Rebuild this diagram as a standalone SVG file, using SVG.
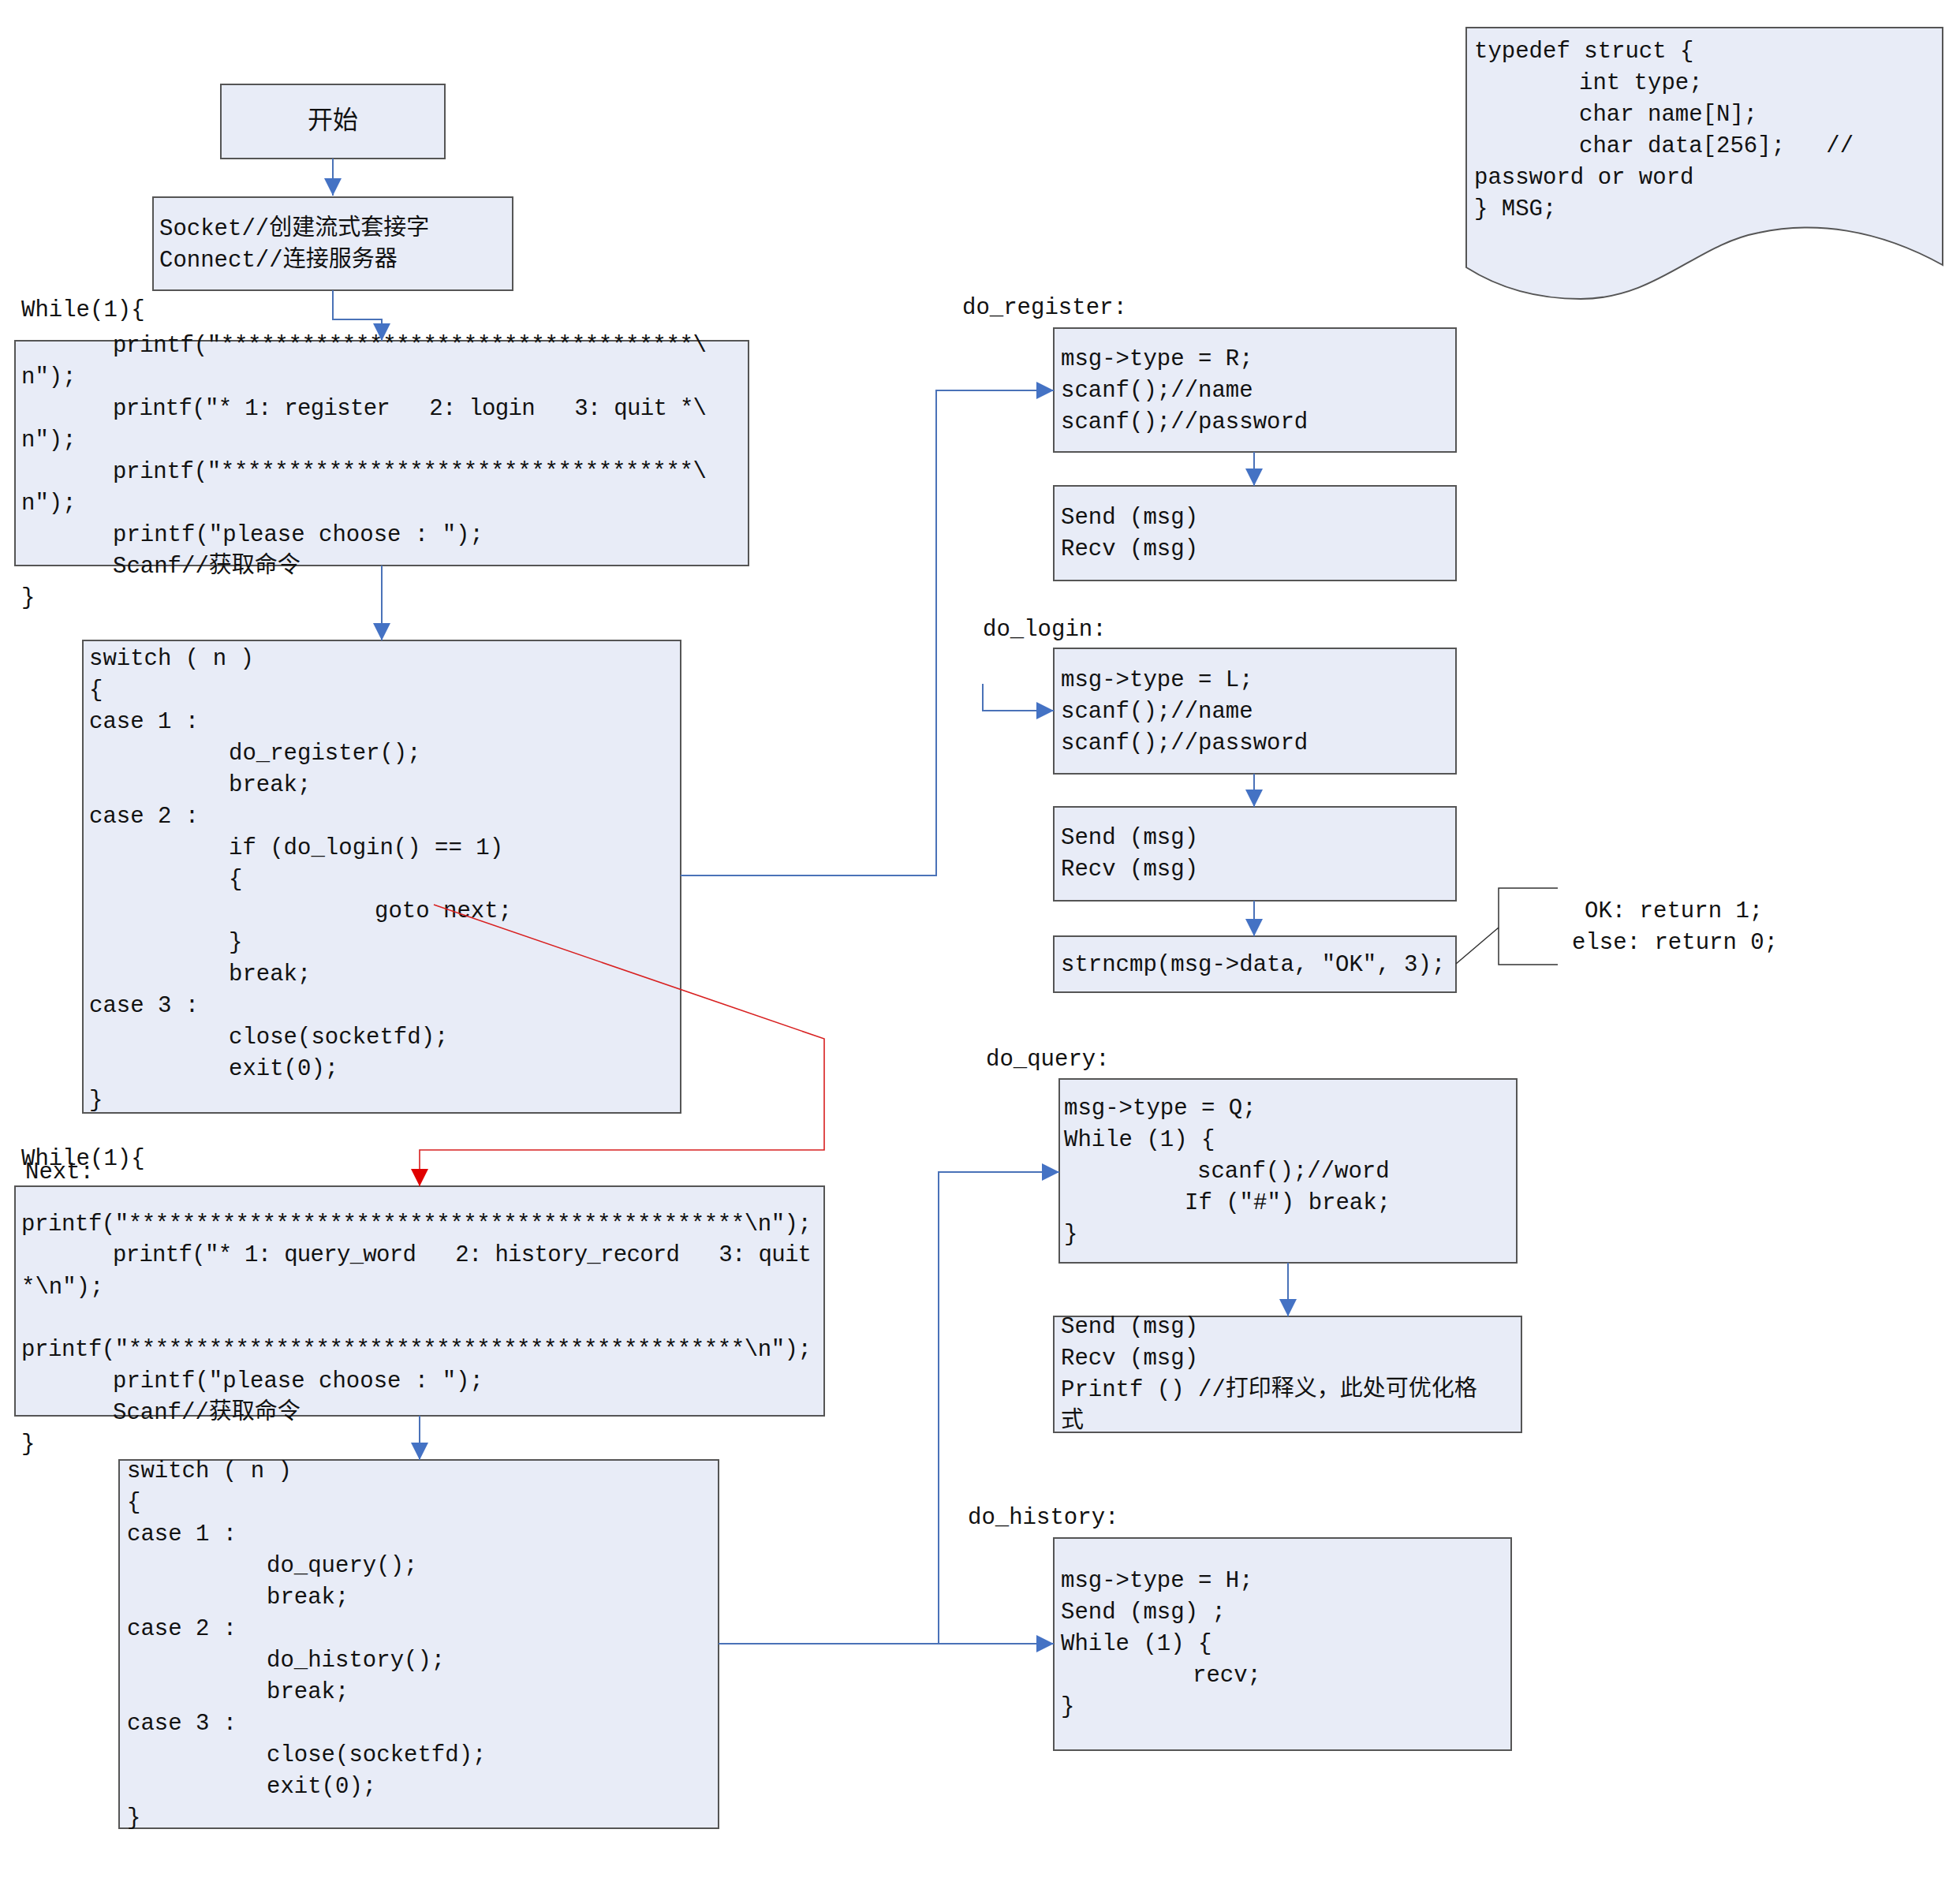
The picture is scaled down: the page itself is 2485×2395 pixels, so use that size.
<svg xmlns="http://www.w3.org/2000/svg" width="2485" height="2395" viewBox="0 0 2485 2395">
<style>
.b{fill:#E8ECF7;stroke:#555;stroke-width:2}
.t{font-family:"Liberation Mono","Noto Sans CJK SC",monospace;font-size:29px;fill:#111;white-space:pre}
.c{fill:none;stroke:#4A72B8;stroke-width:2}
.r{fill:none;stroke:#D82020;stroke-width:1.6}
</style>
<defs>
<marker id="a" viewBox="0 0 10 10" refX="10" refY="5" markerWidth="22" markerHeight="22" markerUnits="userSpaceOnUse" orient="auto"><path d="M0,0L10,5L0,10z" fill="#4472C4"/></marker>
<marker id="ar" viewBox="0 0 10 10" refX="10" refY="5" markerWidth="22" markerHeight="22" markerUnits="userSpaceOnUse" orient="auto"><path d="M0,0L10,5L0,10z" fill="#E00000"/></marker>
</defs>
<g id="start"><rect class="b" x="280" y="107" width="284" height="94"/><text class="t" x="422" y="163" text-anchor="middle" style="font-size:32px">开始</text></g>
<g id="socket"><rect class="b" x="194" y="250" width="456" height="118"/>
<text class="t" x="202" y="298">Socket//创建流式套接字</text><text class="t" x="202" y="338">Connect//连接服务器</text></g>
<g id="menu1"><rect class="b" x="19" y="432" width="930" height="285"/>
<text class="t" x="27" y="401">While(1){</text>
<text class="t" x="143" y="446" textLength="753">printf("***********************************\</text>
<text class="t" x="27" y="486">n");</text>
<text class="t" x="143" y="526" textLength="753">printf("* 1: register   2: login   3: quit *\</text>
<text class="t" x="27" y="566">n");</text>
<text class="t" x="143" y="606" textLength="753">printf("***********************************\</text>
<text class="t" x="27" y="646">n");</text>
<text class="t" x="143" y="686">printf("please choose : ");</text>
<text class="t" x="143" y="726">Scanf//获取命令</text>
<text class="t" x="27" y="766">}</text></g>
<g id="switch1"><rect class="b" x="105" y="812" width="758" height="599"/>
<text class="t" x="113" y="843">switch ( n )</text>
<text class="t" x="113" y="883">{</text>
<text class="t" x="113" y="923">case 1 :</text>
<text class="t" x="290" y="963">do_register();</text>
<text class="t" x="290" y="1003">break;</text>
<text class="t" x="113" y="1043">case 2 :</text>
<text class="t" x="290" y="1083">if (do_login() == 1)</text>
<text class="t" x="290" y="1123">{</text>
<text class="t" x="475" y="1163">goto next;</text>
<text class="t" x="290" y="1203">}</text>
<text class="t" x="290" y="1243">break;</text>
<text class="t" x="113" y="1283">case 3 :</text>
<text class="t" x="290" y="1323">close(socketfd);</text>
<text class="t" x="290" y="1363">exit(0);</text>
<text class="t" x="113" y="1403">}</text></g>
<g id="typedef"><path class="b" d="M1859,35H2463V336C2380,290 2300,280 2230,295C2150,310 2100,379 2004,379C1950,379 1900,365 1859,339Z"/>
<text class="t" x="1869" y="73">typedef struct {</text>
<text class="t" x="2002" y="113">int type;</text>
<text class="t" x="2002" y="153">char name[N];</text>
<text class="t" x="2002" y="193">char data[256];   //</text>
<text class="t" x="1869" y="233">password or word</text>
<text class="t" x="1869" y="273">} MSG;</text></g>
<g id="register"><text class="t" x="1220" y="398">do_register:</text>
<rect class="b" x="1336" y="416" width="510" height="157"/>
<text class="t" x="1345" y="463">msg->type = R;</text><text class="t" x="1345" y="503">scanf();//name</text><text class="t" x="1345" y="543">scanf();//password</text></g>
<g id="register2"><rect class="b" x="1336" y="616" width="510" height="120"/>
<text class="t" x="1345" y="664">Send (msg)</text><text class="t" x="1345" y="704">Recv (msg)</text></g>
<g id="login"><text class="t" x="1246" y="806">do_login:</text>
<rect class="b" x="1336" y="822" width="510" height="159"/>
<text class="t" x="1345" y="870">msg->type = L;</text><text class="t" x="1345" y="910">scanf();//name</text><text class="t" x="1345" y="950">scanf();//password</text></g>
<g id="login2"><rect class="b" x="1336" y="1023" width="510" height="119"/>
<text class="t" x="1345" y="1070">Send (msg)</text><text class="t" x="1345" y="1110">Recv (msg)</text></g>
<g id="strncmp"><rect class="b" x="1336" y="1187" width="510" height="71"/>
<text class="t" x="1345" y="1231">strncmp(msg->data, "OK", 3);</text></g>
<g id="result"><text class="t" x="2009" y="1163">OK: return 1;</text><text class="t" x="1993" y="1203">else: return 0;</text></g>
<g id="menu2"><text class="t" x="27" y="1477">While(1){</text><text class="t" x="32" y="1494">Next:</text>
<rect class="b" x="19" y="1504" width="1026" height="291"/>
<text class="t" x="27" y="1560" textLength="1002">printf("**********************************************\n");</text>
<text class="t" x="143" y="1599" textLength="886">printf("* 1: query_word   2: history_record   3: quit</text>
<text class="t" x="27" y="1640">*\n");</text>
<text class="t" x="27" y="1719" textLength="1002">printf("**********************************************\n");</text>
<text class="t" x="143" y="1759">printf("please choose : ");</text>
<text class="t" x="143" y="1799">Scanf//获取命令</text>
<text class="t" x="27" y="1839">}</text></g>
<g id="switch2"><rect class="b" x="151" y="1851" width="760" height="467"/>
<text class="t" x="161" y="1873">switch ( n )</text>
<text class="t" x="161" y="1913">{</text>
<text class="t" x="161" y="1953">case 1 :</text>
<text class="t" x="338" y="1993">do_query();</text>
<text class="t" x="338" y="2033">break;</text>
<text class="t" x="161" y="2073">case 2 :</text>
<text class="t" x="338" y="2113">do_history();</text>
<text class="t" x="338" y="2153">break;</text>
<text class="t" x="161" y="2193">case 3 :</text>
<text class="t" x="338" y="2233">close(socketfd);</text>
<text class="t" x="338" y="2273">exit(0);</text>
<text class="t" x="161" y="2313">}</text></g>
<g id="query"><text class="t" x="1250" y="1351">do_query:</text>
<rect class="b" x="1343" y="1368" width="580" height="233"/>
<text class="t" x="1349" y="1413">msg->type = Q;</text>
<text class="t" x="1349" y="1453">While (1) {</text>
<text class="t" x="1518" y="1493">scanf();//word</text>
<text class="t" x="1502" y="1533">If ("#") break;</text>
<text class="t" x="1349" y="1573">}</text></g>
<g id="query2"><rect class="b" x="1336" y="1669" width="593" height="147"/>
<text class="t" x="1345" y="1690">Send (msg)</text>
<text class="t" x="1345" y="1730">Recv (msg)</text>
<text class="t" x="1345" y="1770">Printf () //打印释义，此处可优化格</text>
<text class="t" x="1345" y="1810">式</text></g>
<g id="history"><text class="t" x="1227" y="1932">do_history:</text>
<rect class="b" x="1336" y="1950" width="580" height="269"/>
<text class="t" x="1345" y="2012">msg->type = H;</text>
<text class="t" x="1345" y="2052">Send (msg) ;</text>
<text class="t" x="1345" y="2092">While (1) {</text>
<text class="t" x="1512" y="2132">recv;</text>
<text class="t" x="1345" y="2172">}</text></g>
<g id="connectors">
<path class="c" d="M422,201V248" marker-end="url(#a)"/>
<path class="c" d="M422,368V405H484V432" marker-end="url(#a)"/>
<path class="c" d="M484,717V812" marker-end="url(#a)"/>
<path class="c" d="M863,1110H1187V495H1336" marker-end="url(#a)"/>
<path class="c" d="M1246,867V901H1336" marker-end="url(#a)"/>
<path class="c" d="M1590,573V616" marker-end="url(#a)"/>
<path class="c" d="M1590,981V1023" marker-end="url(#a)"/>
<path class="c" d="M1590,1142V1187" marker-end="url(#a)"/>
<path class="c" d="M1633,1601V1669" marker-end="url(#a)"/>
<path class="c" d="M532,1795V1851" marker-end="url(#a)"/>
<path class="c" d="M911,2084H1336" marker-end="url(#a)"/>
<path class="c" d="M1190,2084V1486H1343" marker-end="url(#a)"/>
<path class="r" d="M550,1147L1045,1317V1458H532V1504" marker-end="url(#ar)"/>
<path fill="none" stroke="#333" stroke-width="1.5" d="M1846,1222L1900,1176M1975,1126H1900V1223H1975"/>
</g>
</svg>
